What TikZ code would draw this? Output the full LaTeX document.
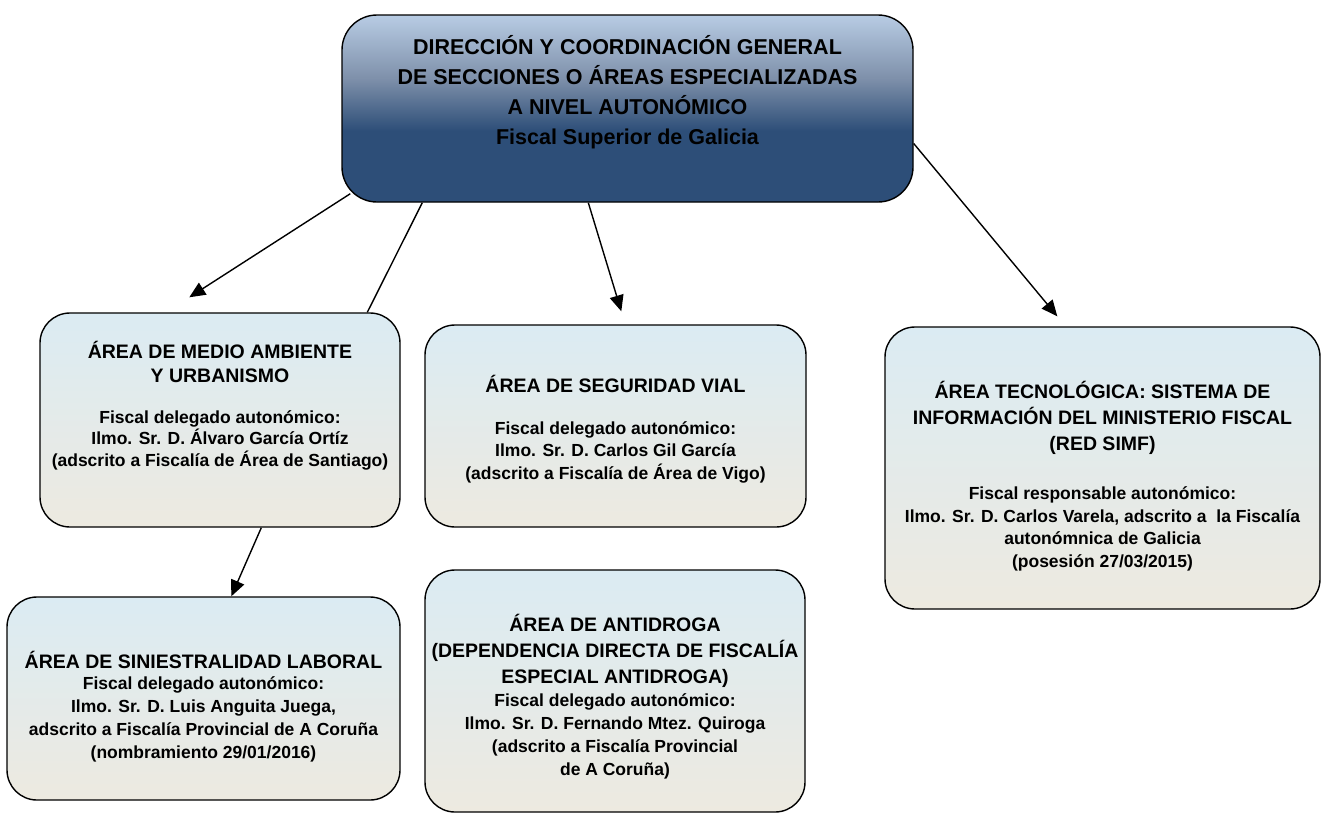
\documentclass[tikz,border=0pt]{standalone}
\usepackage{fontspec}
\setmainfont{Liberation Sans}
\usetikzlibrary{arrows.meta}
\definecolor{toplight}{HTML}{B8CCE4}
\definecolor{topmid}{HTML}{7E90AA}
\definecolor{topdark}{HTML}{2D4E78}
\definecolor{boxtop}{HTML}{DBEBF3}
\definecolor{boxbot}{HTML}{EDEAE0}
\pgfdeclareverticalshading{topsh}{100bp}{color(0bp)=(topdark); color(25bp)=(topdark); color(44bp)=(topdark); color(58bp)=(topmid); color(75bp)=(toplight); color(100bp)=(toplight)}
\tikzset{
  areabox/.style={draw=black, line width=1.4pt, rounded corners=30pt, top color=boxtop, bottom color=boxbot, inner sep=0pt},
  headbox/.style={draw=black, line width=1.4pt, rounded corners=35pt, shading=topsh, inner sep=0pt},
  ttl/.style={align=center, inner sep=0pt, font=\bfseries\fontsize{19.5}{23.5}\selectfont},
  bdy/.style={align=center, inner sep=0pt, font=\bfseries\fontsize{17.5}{22.5}\selectfont},
  headtxt/.style={align=center, inner sep=0pt, font=\bfseries\fontsize{21.5}{30}\selectfont},
  conn/.style={line width=1.4pt, draw=black},
  arr/.style={conn, -{Triangle[length=16pt,width=14pt]}}
}
\begin{document}
\begin{tikzpicture}[x=1pt,y=-1pt]
\useasboundingbox (0,0) rectangle (1321,814);
% boxes
\node[headbox, minimum width=571pt, minimum height=187pt] (dir) at (627.5,108.5) {};
\node[areabox, minimum width=360pt, minimum height=214pt] (med) at (220,420) {};
\node[areabox, minimum width=381pt, minimum height=202pt] (seg) at (615.5,426) {};
\node[areabox, minimum width=435pt, minimum height=282pt] (tec) at (1102.5,468) {};
\node[areabox, minimum width=393pt, minimum height=203pt] (sin) at (203.5,698.5) {};
\node[areabox, minimum width=380pt, minimum height=242pt] (ant) at (615,691) {};
% texts
\node[headtxt] (dirt) at (627.5,92) {DIRECCIÓN Y COORDINACIÓN GENERAL\\DE SECCIONES O ÁREAS ESPECIALIZADAS\\A NIVEL AUTONÓMICO\\Fiscal Superior de Galicia};
\node[ttl] (medt) at (220,362) {ÁREA DE MEDIO AMBIENTE\\Y URBANISMO};
\node[bdy, font=\bfseries\fontsize{17.5}{21.5}\selectfont] (medb) at (220,440) {Fiscal delegado autonómico:\\Ilmo. Sr. D. Álvaro García Ortíz\\(adscrito a Fiscalía de Área de Santiago)};
\node[ttl] (segt) at (615.5,384) {ÁREA DE SEGURIDAD VIAL};
\node[bdy] (segb) at (615.5,452) {Fiscal delegado autonómico:\\Ilmo. Sr. D. Carlos Gil García\\(adscrito a Fiscalía de Área de Vigo)};
\node[ttl, font=\bfseries\fontsize{19.5}{26}\selectfont] (tect) at (1102.5,418) {ÁREA TECNOLÓGICA: SISTEMA DE\\INFORMACIÓN DEL MINISTERIO FISCAL\\(RED SIMF)};
\node[bdy] (tecb) at (1102.5,529) {Fiscal responsable autonómico:\\Ilmo. Sr. D. Carlos Varela, adscrito a\ \ la Fiscalía\\autonómnica de Galicia\\(posesión 27/03/2015)};
\node[ttl] (sint) at (203.5,660) {ÁREA DE SINIESTRALIDAD LABORAL};
\node[bdy, font=\bfseries\fontsize{17.5}{23}\selectfont] (sinb) at (203.5,719) {Fiscal delegado autonómico:\\Ilmo. Sr. D. Luis Anguita Juega,\\adscrito a Fiscalía Provincial de A Coruña\\(nombramiento 29/01/2016)};
\node[ttl, font=\bfseries\fontsize{19.5}{26}\selectfont] (antt) at (615,651) {ÁREA DE ANTIDROGA\\(DEPENDENCIA DIRECTA DE FISCALÍA\\ESPECIAL ANTIDROGA)};
\node[bdy, font=\bfseries\fontsize{17.5}{23}\selectfont] (antb) at (615,736) {Fiscal delegado autonómico:\\Ilmo. Sr. D. Fernando Mtez. Quiroga\\(adscrito a Fiscalía Provincial\\de A Coruña)};
% free ends
\coordinate (e1) at ([xshift=150pt,yshift=15pt]med.north west);
\coordinate (e3) at ([xshift=197pt,yshift=13pt]seg.north west);
\coordinate (e4) at ([xshift=173pt,yshift=10pt]tec.north west);
% connectors
\draw[arr] ([xshift=9pt,yshift=9pt]dir.south west) -- (e1);
\draw[conn] ([xshift=81pt]dir.south west) -- ([xshift=328pt]med.north west);
\draw[arr] ([xshift=247pt]dir.south west) -- (e3);
\draw[arr] ([yshift=-35pt]dir.east) -- (e4);
\draw[arr] ([xshift=222pt]med.south west) -- ([xshift=225pt]sin.north west);
\end{tikzpicture}
\end{document}
